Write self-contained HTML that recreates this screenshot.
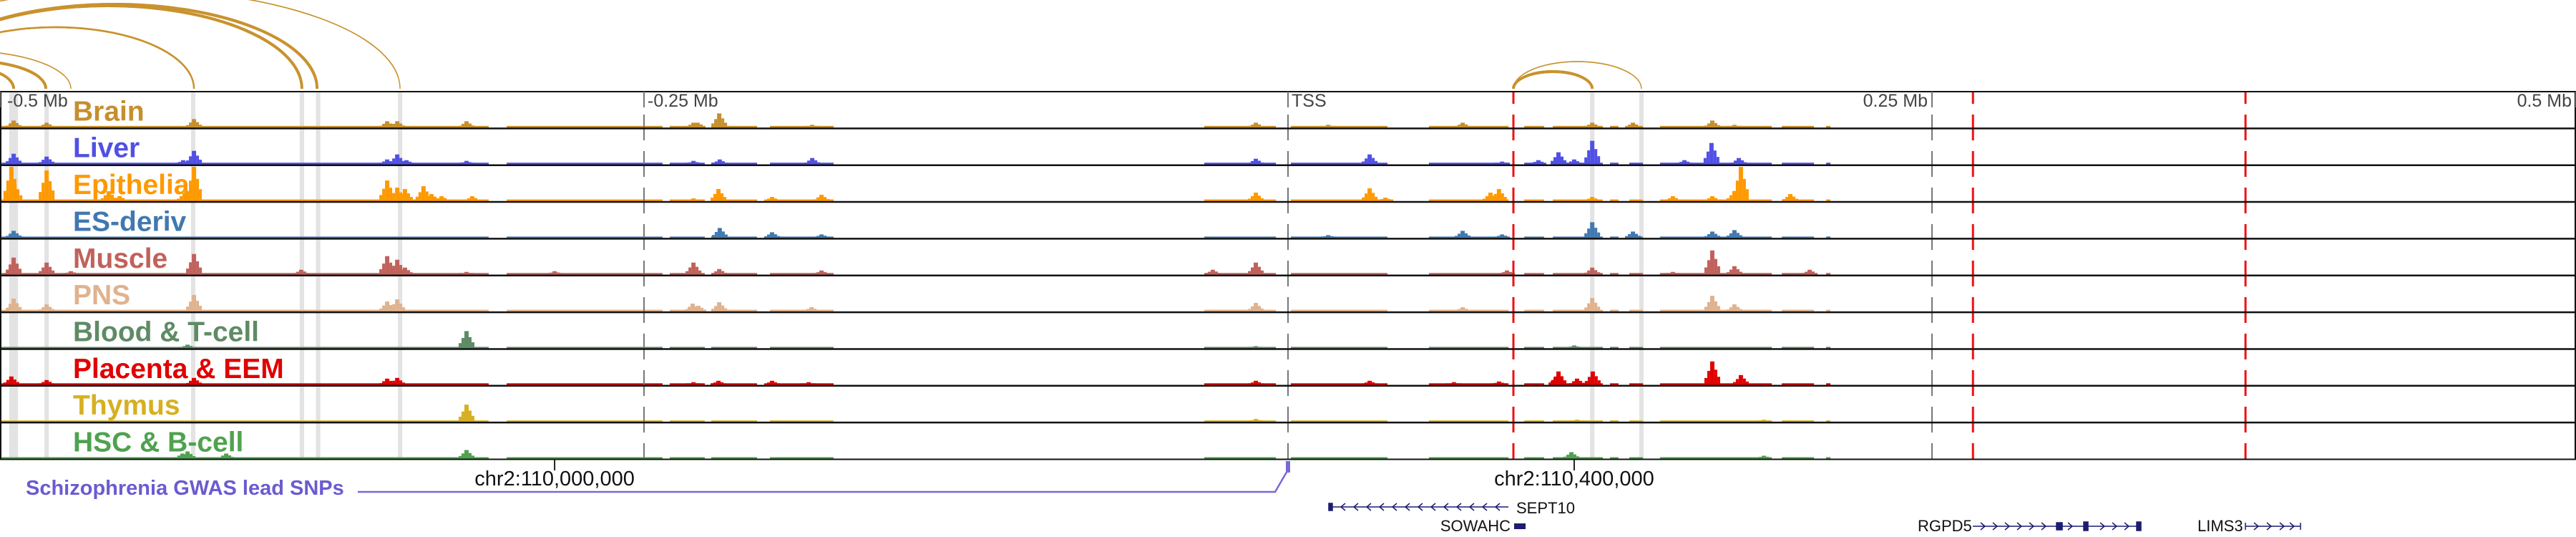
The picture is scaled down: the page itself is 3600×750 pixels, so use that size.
<!DOCTYPE html>
<html><head><meta charset="utf-8"><style>
html,body{margin:0;padding:0;background:#fff;}
svg{display:block;}
text{font-family:"Liberation Sans",sans-serif;}
</style></head><body>
<svg id="chart" width="3600" height="750" viewBox="0 0 3600 750" xmlns="http://www.w3.org/2000/svg">
<g id="bands"></g>
<g id="arcs"></g>
<g id="tracks"></g>
<g id="frame"></g>
<g id="ruler"></g>
<g id="bottom"></g>
</svg>
<script>
// ---- data ----
const trackNames = ["Brain","Liver","Epithelia","ES-deriv","Muscle","PNS","Blood & T-cell","Placenta & EEM","Thymus","HSC & B-cell"];
const trackColors = ["#c68f2c","#5050e6","#ff9900","#4178b0","#c1615b","#e0b28e","#5e8b64","#e00000","#d6b021","#4fa24f"];
const baseLevel = [2.5,2.5,2.5,2,2.5,2.5,2,2.5,2,2];
const coveredSegments = [[-499.4,-310.3],[-303.3,-242.8],[-240,-226.4],[-223.9,-206.1],[-201.1,-176.4],[-32.5,-4.7],[1.1,38.6],[54.7,85.6],[91.7,99.4],[102.8,122.2],[125,128.3],[132.5,137.8],[144.4,187.8],[191.7,204.2],[208.9,210.6]];
const brainPeaks = [[-494.7,10],[-481.9,7],[-424.7,12],[-349.7,9],[-345.8,9],[-318.9,9],[-230.8,7],[-220.8,20],[-229.2,7],[-184.7,4],[-12.5,7],[15.6,4],[67.8,7],[118.1,7],[133.9,7],[164.7,10],[173.3,4]];
const liverPeaks = [[-494.7,15],[-481.9,11],[-424.7,19],[-428.9,6],[-349.7,7],[-345.8,14],[-342.2,6],[-318.9,5],[-230.8,5],[-220.6,7],[-184.7,9],[-12.5,8],[31.7,14],[105,17],[118.1,33],[97.2,6],[111.1,7],[164.4,30],[175,9],[83.1,4],[153.9,6]];
const epitheliaPeaks = [[-495.6,48],[-494.4,24],[-481.9,43],[-424.7,48],[-428.3,12],[-457.8,14],[-453.6,7],[-349.7,29],[-345.8,19],[-342.8,17],[-335.6,21],[-332.5,10],[-328.6,7],[-316.7,7],[-221.1,17],[-181.1,9],[-200.3,6],[-12.5,12],[-230.8,4],[31.7,18],[37.8,5],[81.9,17],[78.6,12],[118.1,6],[149.4,7],[164.7,7],[175.8,48],[173.3,14],[195,10]];
const esPeaks = [[-494.7,10],[-220.6,14],[-200.3,8],[-181.1,5],[67.8,10],[118.1,22],[133.9,9],[164.7,9],[173.3,11],[15.6,4],[83.1,5]];
const musclePeaks = [[-494.7,24],[-481.9,17],[-424.7,29],[-472.5,5],[-383.1,7],[-349.7,26],[-345.8,21],[-342.8,10],[-318.9,4],[-284.7,5],[-230.8,17],[-220.8,8],[-181.1,6],[-12.5,17],[-29.2,7],[118.1,10],[164.7,34],[173.3,12],[202.5,7],[149.4,4],[85,6]];
const pnsPeaks = [[-494.7,18],[-481.9,10],[-424.7,23],[-349.7,14],[-345.8,17],[-231.1,11],[-228.9,8],[-220.8,13],[-185,6],[-12.5,12],[118.1,19],[164.7,22],[173.3,10],[67.8,6]];
const bloodPeaks = [[-318.9,24],[-427.2,5],[111.1,4],[-12.5,3]];
const placentaPeaks = [[-495.6,12],[-481.9,7],[-424.7,10],[-349.7,9],[-345.8,10],[-230.8,4],[-221.1,6],[-200.3,6],[-186.1,4],[-12.5,6],[105,19],[104.2,12],[118.3,19],[112.2,9],[164.7,33],[175.8,14],[31.7,6],[81.9,5],[64.4,4]];
const thymusPeaks = [[-318.9,24],[-12.5,4],[112.2,3],[184.7,3]];
const hscPeaks = [[-318.9,12],[-427.2,10],[-429.2,7],[-412.2,7],[110,9],[184.7,4]];
const allPeaks = [brainPeaks,liverPeaks,epitheliaPeaks,esPeaks,musclePeaks,pnsPeaks,bloodPeaks,placentaPeaks,thymusPeaks,hscPeaks];
const highlightKb = [-494.7,-481.9,-425,-382.8,-376.5,-344.7,118.1,137.2];
const highlightWidthKb = [3.4,1.7,1.7,1.7,1.7,1.7,1.7,1.7];
const grayGuideKb = [-250,0,250];
const redGuideKb = [87.5,265.9,371.7];
const rulerKb = [-500,-250,0,250,500];
const rulerLabels = ["-0.5 Mb","-0.25 Mb","TSS","0.25 Mb","0.5 Mb"];
const arcStart = [-555.6,-533.6,-534.2,-532.5,-555.6,-540,-527.5,87.5,87.5];
const arcEnd = [-344.7,-382.8,-376.9,-424.7,-472.5,-482.2,-494.7,118.1,137.2];
const arcHeight = [139,116,118,86,53,39,29,24,38];
const arcWeight = [1.5,4,4,2.5,1.5,4,4,4,1.5];
const coordKb = [-284.7,111.1];
const coordLabels = ["chr2:110,000,000","chr2:110,400,000"];

// ---- axes ----
const X0 = 1800, PX_PER_KB = 3.6;
const xs = kb => X0 + kb * PX_PER_KB;
const TOP = 128, BOTTOM = 641.5, NT = 10;
const trackH = (BOTTOM - TOP) / NT;
const ys = v => v * 1.0;
const NS = "http://www.w3.org/2000/svg";
function mk(tag, attrs, parent){ const e=document.createElementNS(NS,tag); for(const k in attrs) e.setAttribute(k,attrs[k]); parent.appendChild(e); return e; }

const gB = document.getElementById('bands');
highlightKb.forEach((kb,i)=>{
  const w = highlightWidthKb[i]*PX_PER_KB;
  const r = mk('rect',{x:xs(kb)-w/2,y:TOP,width:w,height:BOTTOM-TOP,fill:'#e3e3e3'},gB);
  
  
});

const gA = document.getElementById('arcs');
const ARC_BASE = 124;
arcStart.forEach((s,i)=>{
  const x1=xs(s), x2=xs(arcEnd[i]), rx=(x2-x1)/2, ry=arcHeight[i];
  const p = mk('path',{d:`M${x1},${ARC_BASE} A${rx},${ry} 0 0 1 ${x2},${ARC_BASE}`,fill:'none',stroke:'#c9922e','stroke-width':arcWeight[i]},gA);
  
  
});

// peak shape (relative offsets px, relative height, width)
const shapeOff = [-11,-7,-3,3,7];
const shapeRel = [0.3,0.6,1,0.65,0.35];
const shapeW = [4,4,6,4,4];

const gT = document.getElementById('tracks');
trackNames.forEach((name,t)=>{
  const g = mk('g',{},gT);
  
  
  const bot = TOP + (t+1)*trackH - 1;
  const col = trackColors[t];
  coveredSegments.forEach(sg=>{
    const r = mk('rect',{x:xs(sg[0]),y:bot-ys(baseLevel[t]),width:xs(sg[1])-xs(sg[0]),height:ys(baseLevel[t]),fill:col},g);
    
    
  });
  allPeaks[t].forEach(pk=>{
    const cx = xs(pk[0]), h = ys(pk[1]);
    shapeOff.forEach((o,k)=>{
      const hh = Math.max(h*shapeRel[k], ys(baseLevel[t]));
      const r = mk('rect',{x:cx+o,y:bot-hh,width:shapeW[k],height:hh,fill:col},g);
      
      
    });
  });
  const lbl = mk('text',{x:102,y:bot-10,'font-size':39,'font-weight':'bold',fill:col},g);
  lbl.textContent = name;
  
  
});

const gF = document.getElementById('frame');
grayGuideKb.forEach(kb=>{
  const l = mk('line',{x1:xs(kb),x2:xs(kb),y1:109,y2:BOTTOM,stroke:'#777','stroke-width':2,'stroke-dasharray':'36 15'},gF);
  
  
});
redGuideKb.forEach(kb=>{
  const l = mk('line',{x1:xs(kb),x2:xs(kb),y1:109,y2:BOTTOM,stroke:'#ee1111','stroke-width':3,'stroke-dasharray':'36 15'},gF);
  
  
});
mk('rect',{x:0,y:105,width:3600,height:TOP-105,fill:'#fff'},gF);
for(let t=1;t<NT;t++){
  const y = TOP + t*trackH;
  const l = mk('line',{x1:0,x2:3600,y1:y,y2:y,stroke:'#111','stroke-width':2.5},gF);
  
  
}
const fr = mk('rect',{x:1,y:TOP,width:3598,height:BOTTOM-TOP,fill:'none',stroke:'#111','stroke-width':2},gF);



// redraw arc ends over white mask (arcs sit above the frame)
arcStart.forEach((s,i)=>{
  const x1=xs(s), x2=xs(arcEnd[i]), rx=(x2-x1)/2, ry=arcHeight[i];
  mk('path',{d:`M${x1},${ARC_BASE} A${rx},${ry} 0 0 1 ${x2},${ARC_BASE}`,fill:'none',stroke:'#c9922e','stroke-width':arcWeight[i]},gF);
});

const gR = document.getElementById('ruler');
rulerKb.forEach((kb,i)=>{
  const x = xs(kb);
  const tk = mk('line',{x1:x,x2:x,y1:TOP,y2:TOP+22,stroke:'#777','stroke-width':2},gR);
  
  
  const right = kb > 0;
  const tx = mk('text',{x: right ? x-6 : x+(kb<-400?10:5), y:149,'font-size':25,fill:'#444','text-anchor': right?'end':'start'},gR);
  tx.textContent = rulerLabels[i];
  
  
});

const gBt = document.getElementById('bottom');
coordKb.forEach((kb,i)=>{
  const x = xs(kb);
  mk('line',{x1:x,x2:x,y1:BOTTOM,y2:657,stroke:'#222','stroke-width':2},gBt);
  const t = mk('text',{x:x,y:678,'font-size':29,fill:'#111','text-anchor':'middle'},gBt);
  t.textContent = coordLabels[i];
  
  
});
</script>
<svg style="position:absolute;left:0;top:0" width="3600" height="750" viewBox="0 0 3600 750" xmlns="http://www.w3.org/2000/svg">
  <text x="36" y="691" font-size="29" font-weight="bold" fill="#6a5bd0" font-family="Liberation Sans, sans-serif">Schizophrenia GWAS lead SNPs</text>
  <polyline points="500,687 1782,687 1800,656" fill="none" stroke="#7a68d8" stroke-width="2.5"/>
  <rect x="1797" y="644" width="6" height="16" fill="#7a68d8"/>
  <g stroke="#1c1c70" fill="none" stroke-width="1.5">
    <line x1="1858" y1="708" x2="2108" y2="708"/>
    <rect x="1857" y="703" width="5" height="10" fill="#1c1c70"/>
    <path d="M1880,703 l-6,5 l6,5 M1898,703 l-6,5 l6,5 M1916,703 l-6,5 l6,5 M1934,703 l-6,5 l6,5 M1952,703 l-6,5 l6,5 M1970,703 l-6,5 l6,5 M1988,703 l-6,5 l6,5 M2006,703 l-6,5 l6,5 M2024,703 l-6,5 l6,5 M2042,703 l-6,5 l6,5 M2060,703 l-6,5 l6,5 M2078,703 l-6,5 l6,5 M2096,703 l-6,5 l6,5"/>
  </g>
  <text x="2119" y="717" font-size="22" fill="#111" font-family="Liberation Sans, sans-serif">SEPT10</text>
  <text x="2111" y="742" font-size="22" fill="#111" text-anchor="end" font-family="Liberation Sans, sans-serif">SOWAHC</text>
  <rect x="2116" y="731" width="16" height="8" fill="#1c1c70"/>
  <text x="2680" y="742" font-size="22" fill="#111" font-family="Liberation Sans, sans-serif">RGPD5</text>
  <g stroke="#1c1c70" fill="none" stroke-width="1.5">
    <line x1="2757" y1="735" x2="2992" y2="735"/>
    <path d="M2768,730 l6,5 l-6,5 M2785,730 l6,5 l-6,5 M2802,730 l6,5 l-6,5 M2819,730 l6,5 l-6,5 M2836,730 l6,5 l-6,5 M2853,730 l6,5 l-6,5 M2890,730 l6,5 l-6,5 M2935,730 l6,5 l-6,5 M2952,730 l6,5 l-6,5 M2969,730 l6,5 l-6,5"/>
    <rect x="2874" y="730" width="8" height="10" fill="#1c1c70"/>
    <rect x="2912" y="729" width="6" height="12" fill="#1c1c70"/>
    <rect x="2986" y="729" width="6" height="12" fill="#1c1c70"/>
  </g>
  <text x="3071" y="742" font-size="22" fill="#111" font-family="Liberation Sans, sans-serif">LIMS3</text>
  <g stroke="#1c1c70" fill="none" stroke-width="1.5">
    <line x1="3138" y1="735" x2="3215" y2="735"/>
    <line x1="3138" y1="730" x2="3138" y2="740"/>
    <line x1="3215" y1="730" x2="3215" y2="740"/>
    <path d="M3150,730 l6,5 l-6,5 M3168,730 l6,5 l-6,5 M3186,730 l6,5 l-6,5 M3200,730 l6,5 l-6,5"/>
  </g>
</svg>
</body></html>
